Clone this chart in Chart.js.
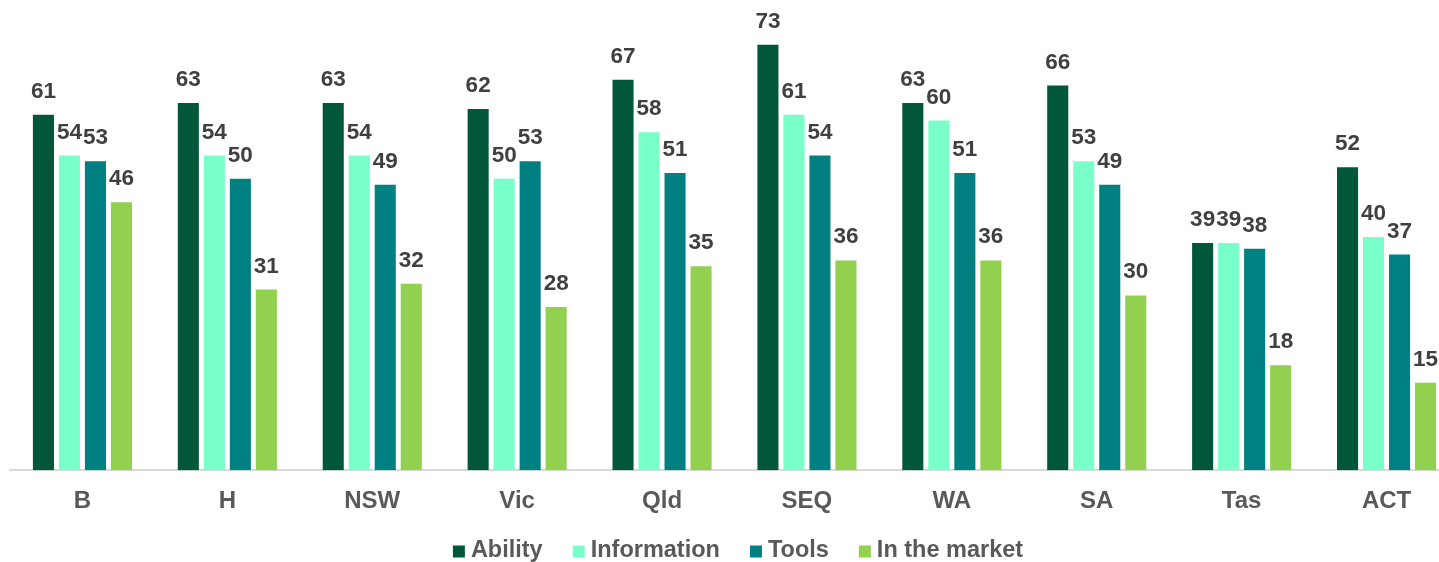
<!DOCTYPE html>
<html>
<head>
<meta charset="utf-8">
<script src="https://cdn.jsdelivr.net/npm/chart.js@4.4.0/dist/chart.umd.min.js"></script>
<style>
html,body{margin:0;padding:0;background:#fff;overflow:hidden;}
#wrap{width:1470px;height:562px;position:relative;}
</style>
</head>
<body>
<div id="wrap"><canvas id="c"></canvas></div>
<script>
const categories = ["B","H","NSW","Vic","Qld","SEQ","WA","SA","Tas","ACT"];
const seriesNames = ["Ability","Information","Tools","In the market"];
const ability = [61,63,63,62,67,73,63,66,39,52];
const information = [54,54,54,50,58,61,60,53,39,40];
const tools = [53,50,49,53,51,54,51,49,38,37];
const inTheMarket = [46,31,32,28,35,36,36,30,18,15];
const colors = ["#00573A","#79FFC9","#008080","#92D050"];
const FONT = '"Liberation Sans", Arial, sans-serif';

const labelPlugin = {
  id: 'barLabels',
  afterDatasetsDraw(chart) {
    const ctx = chart.ctx;
    ctx.save();
    ctx.font = 'bold 22.5px ' + FONT;
    ctx.fillStyle = '#404040';
    ctx.textAlign = 'center';
    ctx.textBaseline = 'alphabetic';
    chart.data.datasets.forEach((ds, i) => {
      const meta = chart.getDatasetMeta(i);
      if (meta.hidden) return;
      meta.data.forEach((bar, j) => {
        ctx.fillText(String(ds.data[j]), bar.x, bar.y - 17);
      });
    });
    ctx.restore();
  }
};

const legendPlugin = {
  id: 'customLegend',
  afterDraw(chart) {
    const ctx = chart.ctx;
    ctx.save();
    ctx.font = 'bold 23.5px ' + FONT;
    const box = 12, gapBoxText = 6, gapItems = 30;
    const items = chart.data.datasets.map(ds => ({
      label: ds.label, color: ds.backgroundColor, w: ctx.measureText(ds.label).width
    }));
    let total = 0;
    items.forEach((it, i) => { total += box + gapBoxText + it.w + (i < items.length - 1 ? gapItems : 0); });
    let x = 738 - total / 2;
    const baseY = 557;
    ctx.textBaseline = 'alphabetic';
    ctx.textAlign = 'left';
    items.forEach(it => {
      ctx.fillStyle = it.color;
      ctx.fillRect(x, baseY - 11.5, box, box);
      x += box + gapBoxText;
      ctx.fillStyle = '#595959';
      ctx.fillText(it.label, x, baseY);
      x += it.w + gapItems;
    });
    ctx.restore();
  }
};

const allSeries = [ability, information, tools, inTheMarket];
new Chart(document.getElementById('c'), {
  type: 'bar',
  data: {
    labels: categories,
    datasets: allSeries.map((d, i) => ({
      label: seriesNames[i],
      data: d,
      backgroundColor: colors[i],
      borderWidth: 0,
      categoryPercentage: 0.718,
      barPercentage: 0.81
    }))
  },
  options: {
    responsive: true,
    maintainAspectRatio: false,
    animation: false,
    layout: { padding: { left: 10, right: 11, top: 4, bottom: 29 } },
    scales: {
      x: {
        grid: { display: false, drawTicks: false },
        border: { display: true, color: '#D9D9D9', width: 2 },
        ticks: {
          color: '#595959',
          padding: 17,
          font: { family: FONT, size: 24, weight: 'bold' }
        }
      },
      y: {
        display: false,
        min: 0,
        max: 80
      }
    },
    plugins: {
      tooltip: { enabled: false },
      legend: { display: false }
    }
  },
  plugins: [labelPlugin, legendPlugin]
});
</script>
</body>
</html>
